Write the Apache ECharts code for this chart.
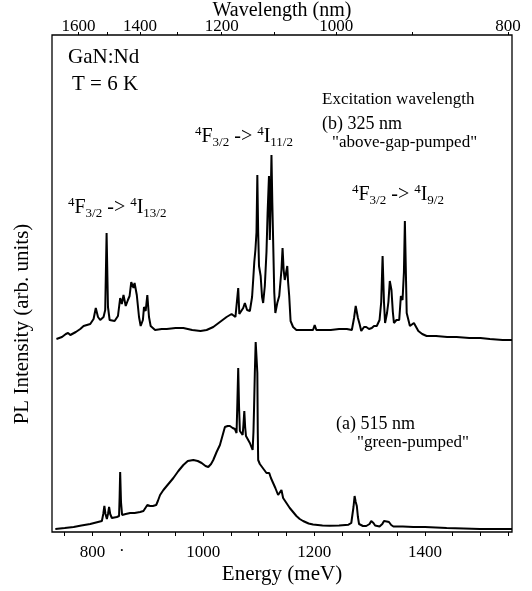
<!DOCTYPE html>
<html>
<head>
<meta charset="utf-8">
<script src="https://cdn.jsdelivr.net/npm/echarts@6/dist/echarts.min.js"></script>
<style>
  html, body { margin: 0; padding: 0; background: #fff; }
  #chart { width: 532px; height: 591px; }
</style>
</head>
<body>
<div id="chart"></div>
<script>
// PL spectra of GaN:Nd at 6 K, two excitation wavelengths (offset traces)

// energy axis (meV)
var energyTicks = [750, 800, 850, 900, 950, 1000, 1050, 1100, 1150, 1200, 1250, 1300, 1350, 1400, 1450, 1500, 1550];
var energyLabels = [800, 1000, 1200, 1400];
// top axis (nm)
var wavelengthTicks = [1600, 1500, 1400, 1300, 1200, 1100, 1000, 900, 800];
var wavelengthLabels = [1600, 1400, 1200, 1000, 800];

// (b) 325 nm, above-gap-pumped  [energy meV, intensity arb.]
var traceB = [
  [735,193],[745,195],[752,198],[756,199],[760,197],[770,200],[778,203],[784,206],[796,208],
  [802,213],[806,224],[810,215],[814,212],[820,215],[823,222],[825.5,299],[828,225],[831,212],
  [840,211],[846,216],[850,234],[853,228],[856,237],[860,226],[864,232],[867,236],[870,250],
  [872,252],[874,244],[876,249],[880,237],[884,215],[887,206],[891,212],[893,225],[896,221],
  [899,237],[902,215],[905,206],[913,202],[925,203],[934,203],[950,204],[964,204],[980,202],
  [995,201],[1006,202],[1018,205],[1030,210],[1042,215],[1051,218],[1058,215],[1061,216],
  [1063,244],[1065,218],[1068,219],[1072,224],[1075,229],[1079,222],[1084,221],[1088,235],
  [1090,252],[1092,270],[1094,282],[1096,300],[1097.5,357],[1099,300],[1100.5,266],[1103.5,256],
  [1106,235],[1108,229],[1111,246],[1114,280],[1116,319],[1118.5,356],[1120,292],[1121.5,330],
  [1123,377],[1124.5,330],[1126,292],[1128,240],[1130,219],[1133.5,229],[1137,236],[1141,262],
  [1143,284],[1145,262],[1147,252],[1149,258],[1151.5,266],[1153,250],[1155,236],[1157.5,211],
  [1162,205],[1168,202],[1185,202],[1198,202],[1201,207],[1204,202],[1215,202],[1230,202],
  [1245,203],[1259,203],[1268,202],[1272,214],[1275,226],[1277,220],[1279,214],[1282,208],
  [1285,201],[1290,205],[1294,205],[1299,203],[1304,204],[1308,206],[1313,206],[1318,212],
  [1321,230],[1323.5,276],[1326,230],[1328,209],[1331.5,219],[1334,230],[1336.5,251],[1339.5,242],
  [1342,220],[1344,209],[1348.5,212],[1353.5,212],[1356.5,236],[1359.5,232],[1362,260],[1363.7,311],
  [1365.5,260],[1367,219],[1372.8,206],[1380,209],[1385,204],[1388,201],[1395,198],[1403,196],
  [1420,196],[1440,195],[1457,195],[1480,194],[1500,194],[1517,193],[1540,192],[1557,192]
];

// (a) 515 nm, green-pumped
var traceA = [
  [733,3],[750,4],[766,5],[780,6.5],[796,8],[810,10],[817,11],[819.5,18],[821.5,26],[823.5,18],
  [826,13],[828,18],[830,25],[832,18],[835,14],[844,15],[848,16],[849,35],[850,60],[851.5,30],
  [853.5,17],[860,18],[868,19],[876,19],[886,20],[892,21],[895,22],[899,27],[902,25],[904,26],
  [909,26],[915,27],[918,31],[922,37],[928,42],[934,46],[946,54],[955,61],[964,67],[972,71],
  [982,72],[990,71],[997,69],[1004,66],[1009,65],[1014,68],[1018,72],[1024,80],[1030,87],
  [1035,97],[1039,105],[1044,106],[1048,106],[1053,104],[1057,103],[1060,99],[1061.5,130],
  [1063,164],[1064.5,125],[1066,101],[1069,99],[1071,97],[1072.5,108],[1074,121],[1075.5,105],
  [1077,96],[1080,93],[1084,89],[1089,82],[1090.5,100],[1091.5,122],[1093,160],[1094.5,190],
  [1096,175],[1097.5,159],[1098.3,100],[1099,72],[1102,68],[1105,66],[1110,62],[1114,59],
  [1117,60],[1119,59],[1122,54],[1126,49],[1130,44],[1135,37],[1138,39],[1141,42],[1142.5,38],
  [1144,34],[1150,29],[1156,24],[1162,20],[1168,16],[1174,13],[1180,11],[1190,8.5],[1198,7.5],
  [1215,6.5],[1228,6.3],[1245,6.5],[1262,7.3],[1267,9],[1269,11],[1271,25],[1273,36],[1275,30],
  [1277,26],[1279,15],[1281,8],[1288,6],[1294,6],[1300,8],[1303,11],[1305,12],[1307,9],
  [1310,6.5],[1318,5.5],[1323,8],[1326,11],[1328,12],[1331,10.5],[1335,10],[1339,7],[1343,5.5],
  [1360,5.5],[1379,5],[1400,5],[1439,4],[1470,3.5],[1499,3],[1530,3],[1557,3]
];

var HC = 1239840; // meV*nm
function nmToMeV(nm) { return HC / nm; }

var serif = '"Liberation Serif", "DejaVu Serif", serif';
var chart = echarts.init(document.getElementById('chart'));

var richLevels = {
  n: { fontFamily: serif, fontSize: 20, lineHeight: 24, color: '#000' },
  sup: { fontFamily: serif, fontSize: 13, lineHeight: 13, verticalAlign: 'top', color: '#000' },
  sub: { fontFamily: serif, fontSize: 13, lineHeight: 13, verticalAlign: 'bottom', color: '#000' }
};

function note(x, y, text, size) {
  return {
    type: 'text', x: x, y: y,
    style: { text: text, fill: '#000', font: size + 'px ' + serif, verticalAlign: 'middle' }
  };
}
function level(x, y, text) {
  return {
    type: 'text', x: x, y: y,
    style: { text: text, rich: richLevels, verticalAlign: 'middle' }
  };
}

var option = {
  animation: false,
  backgroundColor: '#fff',
  grid: {
    left: 52, right: 20, top: 35, bottom: 59, outerBoundsMode: 'none',
    show: true, borderColor: '#000', borderWidth: 1.3
  },
  xAxis: [{
    type: 'value', min: 727, max: 1557,
    name: 'Energy (meV)', nameLocation: 'middle', nameGap: 32, nameMoveOverlap: false,
    nameTextStyle: { fontFamily: serif, fontSize: 21, color: '#000' },
    axisLine: { show: false },
    splitLine: { show: false },
    axisTick: { show: true, length: 4, customValues: energyTicks, lineStyle: { color: '#000' } },
    axisLabel: {
      customValues: energyLabels, margin: 12, fontFamily: serif, fontSize: 17, color: '#000',
      formatter: function (v) { return String(v); }
    }
  }, {
    type: 'value', min: 727, max: 1557, position: 'top',
    name: 'Wavelength (nm)', nameLocation: 'middle', nameGap: 14, nameMoveOverlap: false,
    nameTextStyle: { fontFamily: serif, fontSize: 20, color: '#000' },
    axisLine: { show: false },
    splitLine: { show: false },
    axisTick: { show: true, length: 3, customValues: wavelengthTicks.map(nmToMeV), lineStyle: { color: '#000' } },
    axisLabel: {
      customValues: wavelengthLabels.map(nmToMeV), margin: 0,
      fontFamily: serif, fontSize: 17, color: '#000',
      formatter: function (v) { return String(Math.round(HC / v / 10) * 10); }
    }
  }],
  yAxis: {
    type: 'value', min: 0, max: 497,
    axisLine: { show: false }, axisTick: { show: false }, axisLabel: { show: false },
    splitLine: { show: false }
  },
  series: [{
    name: '(b) 325 nm', type: 'line', data: traceB, showSymbol: false,
    lineStyle: { color: '#000', width: 2 }
  }, {
    name: '(a) 515 nm', type: 'line', data: traceA, showSymbol: false,
    lineStyle: { color: '#000', width: 2 }
  }],
  graphic: [
    {
      type: 'text', x: 22, y: 324, rotation: Math.PI / 2,
      style: { text: 'PL Intensity (arb. units)', fill: '#000', font: '21px ' + serif, align: 'center', verticalAlign: 'middle' }
    },
    note(68, 57, 'GaN:Nd', 21),
    note(72, 84, 'T = 6 K', 21),
    note(322, 100, 'Excitation wavelength', 17),
    note(322, 124, '(b) 325 nm', 18),
    note(332, 143, '"above-gap-pumped"', 17),
    level(195, 137, '{sup|4}{n|F}{sub|3/2}{n| -> }{sup|4}{n|I}{sub|11/2}'),
    level(68, 208, '{sup|4}{n|F}{sub|3/2}{n| -> }{sup|4}{n|I}{sub|13/2}'),
    level(352, 195, '{sup|4}{n|F}{sub|3/2}{n| -> }{sup|4}{n|I}{sub|9/2}'),
    note(336, 424, '(a) 515 nm', 18),
    note(357, 443, '"green-pumped"', 17),
    note(119, 552, '·', 17)
  ]
};
chart.setOption(option);
</script>
</body>
</html>
